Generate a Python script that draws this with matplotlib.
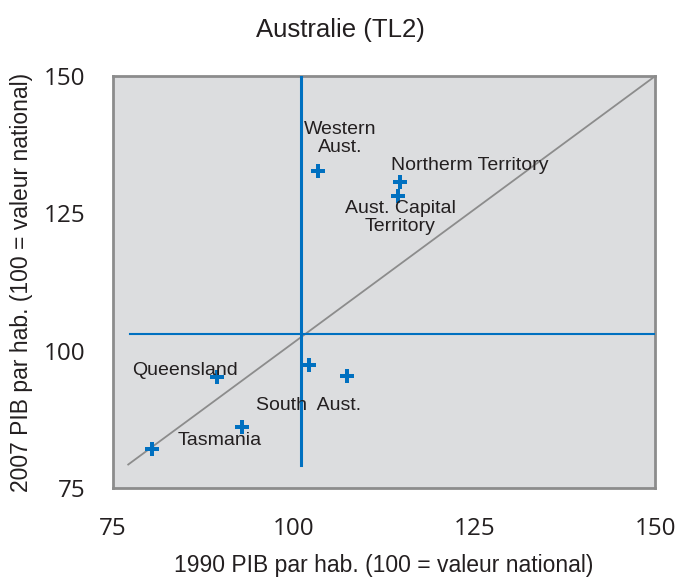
import matplotlib
matplotlib.use("Agg")
import matplotlib.pyplot as plt

# Data
regions = ["Western Aust.", "Northerm Territory", "Aust. Capital Territory",
           "Unlabeled A", "Unlabeled B", "Queensland", "South Aust.", "Tasmania"]
gdp_1990 = [103.4, 114.7, 114.4, 102.1, 107.4, 89.4, 92.8, 80.4]
gdp_2007 = [132.7, 130.7, 128.1, 97.5, 95.5, 95.2, 86.2, 82.1]

label_texts = ["Western\nAust.", "Northerm Territory", "Aust. Capital\nTerritory",
               "Queensland", "South  Aust.", "Tasmania"]
label_x = [106.4, 124.4, 114.7, 85.0, 102.0, 89.8]
label_y = [138.7, 133.8, 124.3, 96.4, 90.1, 83.7]

national_x = 101.0
national_y = 103.0
vline_span = [79.3, 150]
hline_span = [77.4, 150]
diag_x = [77.1, 150]
diag_y = [79.3, 150]

xticks = [75, 100, 125, 150]
yticks = [75, 100, 125, 150]

blue = "#0070C0"
fig = plt.figure(figsize=(6.81, 5.77), dpi=100)
ax = fig.add_axes([0.166, 0.154, 0.796, 0.714])
ax.set_facecolor("#DCDDDF")
for s in ax.spines.values():
    s.set_color("#8C8C8C")
    s.set_linewidth(2)

ax.plot(diag_x, diag_y, color="#8C8C8C", lw=1.3, zorder=2)
ax.plot([national_x, national_x], vline_span, color=blue, lw=2.2, zorder=3)
ax.plot(hline_span, [national_y, national_y], color=blue, lw=1.5, zorder=3)
ax.scatter(gdp_1990, gdp_2007, marker="P", s=100, color=blue, zorder=4, linewidths=0)

for t, x, y in zip(label_texts, label_x, label_y):
    ax.text(x, y, t, ha="center", va="center", fontsize=14,
            family="Liberation Sans", color="#231F20", linespacing=1.05, zorder=5)

ax.set_xlim(75, 150)
ax.set_ylim(75, 150)
ax.set_xticks(xticks)
ax.set_yticks(yticks)
ax.tick_params(axis="x", length=0, labelsize=17.5, pad=21)
ax.tick_params(axis="y", length=0, labelsize=17.5, pad=20)
for lab in ax.get_xticklabels() + ax.get_yticklabels():
    lab.set_family("Open Sans")
    lab.set_color("#231F20")

ax.set_xlabel("1990 PIB par hab. (100 = valeur national)", fontsize=16.5,
              family="Liberation Sans", color="#231F20", va="center")
ax.xaxis.set_label_coords(0.5, -0.187)
ax.set_ylabel("2007 PIB par hab. (100 = valeur national)", fontsize=16.5,
              family="Liberation Sans", color="#231F20", va="center")
ax.yaxis.set_label_coords(-0.168, 0.5)
fig.text(0.5, 0.948, "Australie (TL2)", ha="center", va="center", fontsize=18.5,
         family="Liberation Sans", color="#231F20")

fig.savefig("out.png", dpi=100)
